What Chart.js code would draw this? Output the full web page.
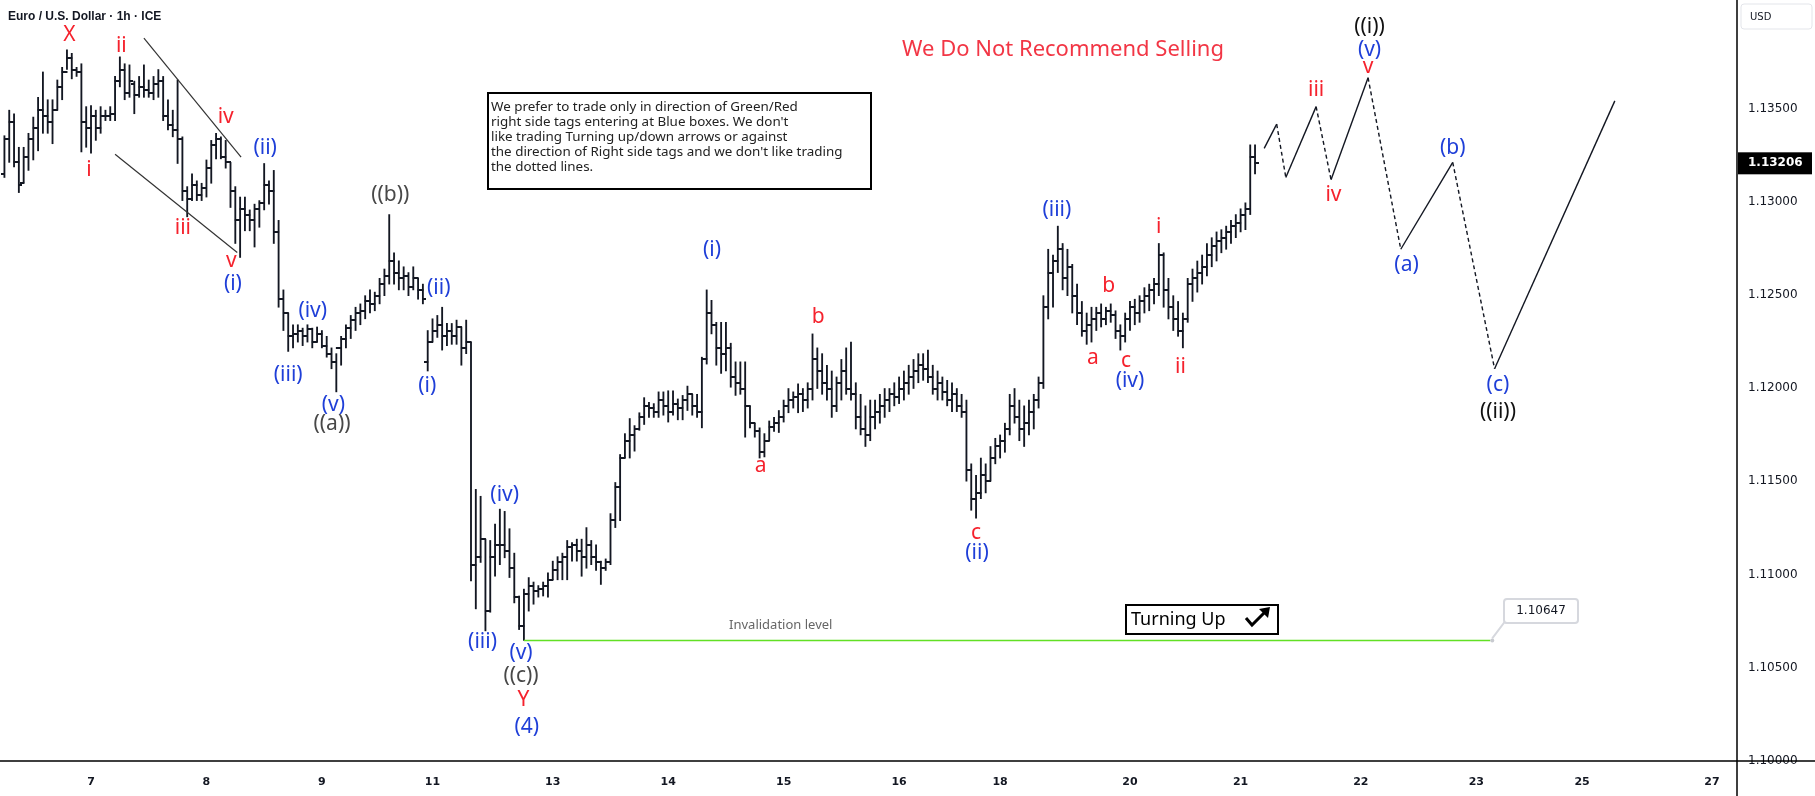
<!DOCTYPE html>
<html>
<head>
<meta charset="utf-8">
<script src="https://cdn.jsdelivr.net/npm/chart.js@4.4.1/dist/chart.umd.min.js"></script>
<style>
  html, body { margin: 0; padding: 0; background: #fff; }
  #wrap { width: 1815px; height: 796px; position: relative; }
</style>
</head>
<body>
<div id="wrap"><canvas id="priceChart"></canvas></div>
<script>
// hourly EUR/USD bars, index 0 = first bar on the left (6 May, ~06:00)
const opens = [
  1.13149, 1.13336, 1.13429, 1.13211, 1.13099, 1.13242, 1.13336, 1.13398, 1.13491, 1.13460,
  1.13429, 1.13491, 1.13616, 1.13696, 1.13771, 1.13709, 1.13696, 1.13429, 1.13398, 1.13460,
  1.13398, 1.13460, 1.13460, 1.13472, 1.13647, 1.13709, 1.13584, 1.13634, 1.13572, 1.13616,
  1.13597, 1.13584, 1.13634, 1.13647, 1.13460, 1.13410, 1.13385, 1.13336, 1.13056, 1.13012,
  1.13087, 1.13037, 1.13074, 1.13180, 1.13305, 1.13336, 1.13242, 1.13211, 1.13056, 1.12900,
  1.12962, 1.12931, 1.12900, 1.12962, 1.12994, 1.13087, 1.13056, 1.12838, 1.12477, 1.12403,
  1.12278, 1.12291, 1.12309, 1.12278, 1.12316, 1.12247, 1.12291, 1.12228, 1.12185, 1.12141,
  1.12216, 1.12266, 1.12322, 1.12365, 1.12403, 1.12415, 1.12465, 1.12452, 1.12496, 1.12558,
  1.12602, 1.12683, 1.12620, 1.12589, 1.12602, 1.12540, 1.12589, 1.12527, 1.12141, 1.12247,
  1.12309, 1.12340, 1.12278, 1.12309, 1.12278, 1.12328, 1.12216, 1.12247, 1.11053, 1.11096,
  1.11190, 1.10804, 1.11096, 1.11159, 1.11159, 1.11127, 1.11034, 1.10879, 1.10723, 1.10897,
  1.10941, 1.10910, 1.10922, 1.10941, 1.10972, 1.11022, 1.11065, 1.11096, 1.11146, 1.11159,
  1.11127, 1.11096, 1.11159, 1.11096, 1.11065, 1.11034, 1.11065, 1.11295, 1.11470, 1.11625,
  1.11718, 1.11749, 1.11781, 1.11843, 1.11905, 1.11893, 1.11874, 1.11936, 1.11905, 1.11874,
  1.11917, 1.11893, 1.11936, 1.11967, 1.11905, 1.11874, 1.12154, 1.12403, 1.12340, 1.12216,
  1.12185, 1.12216, 1.12060, 1.12029, 1.11998, 1.11905, 1.11812, 1.11768, 1.11656, 1.11718,
  1.11793, 1.11812, 1.11843, 1.11905, 1.11936, 1.11955, 1.11967, 1.11936, 1.11998, 1.12154,
  1.12092, 1.12029, 1.11998, 1.11905, 1.12029, 1.12092, 1.11998, 1.11967, 1.11843, 1.11781,
  1.11749, 1.11843, 1.11874, 1.11905, 1.11936, 1.11967, 1.11955, 1.11998, 1.12029, 1.12060,
  1.12092, 1.12123, 1.12104, 1.12060, 1.11998, 1.12029, 1.11980, 1.11936, 1.11967, 1.11905,
  1.11874, 1.11563, 1.11407, 1.11438, 1.11532, 1.11501, 1.11625, 1.11687, 1.11718, 1.11781,
  1.11905, 1.11843, 1.11781, 1.11812, 1.11874, 1.11936, 1.12029, 1.12434, 1.12620, 1.12682,
  1.12745, 1.12589, 1.12651, 1.12496, 1.12403, 1.12309, 1.12340, 1.12371, 1.12403, 1.12371,
  1.12415, 1.12390, 1.12309, 1.12278, 1.12371, 1.12434, 1.12403, 1.12465, 1.12496, 1.12527,
  1.12558, 1.12714, 1.12527, 1.12434, 1.12371, 1.12309, 1.12371, 1.12558, 1.12589, 1.12620,
  1.12651, 1.12714, 1.12763, 1.12788, 1.12807, 1.12838, 1.12869, 1.12888, 1.12931, 1.12962,
  1.13242
];
const highs = [
  1.13354, 1.13491, 1.13472, 1.13292, 1.13292, 1.13367, 1.13454, 1.13560, 1.13696, 1.13547,
  1.13547, 1.13653, 1.13721, 1.13815, 1.13796, 1.13721, 1.13740, 1.13510, 1.13516, 1.13491,
  1.13510, 1.13491, 1.13510, 1.13672, 1.13777, 1.13740, 1.13734, 1.13647, 1.13672, 1.13734,
  1.13653, 1.13672, 1.13709, 1.13672, 1.13547, 1.13491, 1.13653, 1.13348, 1.13081, 1.13149,
  1.13112, 1.13099, 1.13224, 1.13329, 1.13367, 1.13348, 1.13329, 1.13211, 1.13081, 1.13025,
  1.13025, 1.12956, 1.12987, 1.13006, 1.13205, 1.13112, 1.13168, 1.12900, 1.12527, 1.12403,
  1.12340, 1.12340, 1.12322, 1.12340, 1.12322, 1.12328, 1.12309, 1.12278, 1.12216, 1.12185,
  1.12278, 1.12340, 1.12390, 1.12434, 1.12452, 1.12496, 1.12527, 1.12515, 1.12589, 1.12639,
  1.12931, 1.12726, 1.12683, 1.12651, 1.12620, 1.12651, 1.12589, 1.12558, 1.12309, 1.12372,
  1.12390, 1.12434, 1.12347, 1.12347, 1.12365, 1.12328, 1.12365, 1.12247, 1.11457, 1.11420,
  1.11190, 1.11183, 1.11271, 1.11351, 1.11339, 1.11246, 1.11115, 1.10885, 1.10922, 1.10984,
  1.10960, 1.10941, 1.10960, 1.11009, 1.11072, 1.11096, 1.11115, 1.11183, 1.11171, 1.11190,
  1.11190, 1.11252, 1.11183, 1.11159, 1.11072, 1.11084, 1.11327, 1.11494, 1.11644, 1.11756,
  1.11837, 1.11799, 1.11868, 1.11949, 1.11924, 1.11917, 1.11980, 1.11980, 1.11986, 1.11986,
  1.11942, 1.11961, 1.12011, 1.11967, 1.11967, 1.12166, 1.12527, 1.12471, 1.12353, 1.12353,
  1.12353, 1.12241, 1.12141, 1.12141, 1.12141, 1.11905, 1.11812, 1.11787, 1.11756, 1.11824,
  1.11843, 1.11880, 1.11936, 1.11998, 1.11980, 1.12023, 1.11998, 1.12029, 1.12291, 1.12216,
  1.12185, 1.12123, 1.12092, 1.12060, 1.12154, 1.12216, 1.12247, 1.12029, 1.11967, 1.11905,
  1.11936, 1.11936, 1.11967, 1.11998, 1.11998, 1.12029, 1.12060, 1.12092, 1.12123, 1.12154,
  1.12185, 1.12185, 1.12204, 1.12123, 1.12092, 1.12060, 1.12042, 1.12029, 1.11998, 1.11967,
  1.11936, 1.11594, 1.11532, 1.11625, 1.11594, 1.11687, 1.11731, 1.11749, 1.11812, 1.11967,
  1.11998, 1.11936, 1.11905, 1.11936, 1.11967, 1.12060, 1.12496, 1.12745, 1.12714, 1.12869,
  1.12776, 1.12745, 1.12664, 1.12558, 1.12465, 1.12403, 1.12434, 1.12434, 1.12452, 1.12434,
  1.12452, 1.12415, 1.12340, 1.12403, 1.12465, 1.12477, 1.12496, 1.12539, 1.12558, 1.12589,
  1.12776, 1.12726, 1.12589, 1.12496, 1.12465, 1.12403, 1.12589, 1.12639, 1.12682, 1.12714,
  1.12776, 1.12807, 1.12838, 1.12850, 1.12869, 1.12900, 1.12931, 1.12962, 1.12994, 1.13305,
  1.13305
];
const lows = [
  1.13130, 1.13211, 1.13186, 1.13049, 1.13099, 1.13168, 1.13224, 1.13273, 1.13367, 1.13367,
  1.13311, 1.13491, 1.13547, 1.13709, 1.13659, 1.13672, 1.13267, 1.13292, 1.13261, 1.13329,
  1.13367, 1.13435, 1.13435, 1.13435, 1.13616, 1.13547, 1.13560, 1.13472, 1.13560, 1.13560,
  1.13560, 1.13547, 1.13560, 1.13435, 1.13385, 1.13348, 1.13205, 1.13006, 1.12919, 1.13006,
  1.13006, 1.13006, 1.13025, 1.13099, 1.13230, 1.13230, 1.13180, 1.12969, 1.12776, 1.12701,
  1.12844, 1.12844, 1.12757, 1.12863, 1.12956, 1.12987, 1.12776, 1.12434, 1.12309, 1.12197,
  1.12216, 1.12247, 1.12228, 1.12247, 1.12216, 1.12247, 1.12216, 1.12166, 1.12104, 1.11980,
  1.12123, 1.12216, 1.12266, 1.12309, 1.12340, 1.12372, 1.12403, 1.12415, 1.12452, 1.12496,
  1.12558, 1.12558, 1.12527, 1.12527, 1.12496, 1.12527, 1.12477, 1.12452, 1.12092, 1.12247,
  1.12272, 1.12204, 1.12228, 1.12235, 1.12235, 1.12123, 1.12185, 1.10966, 1.10816, 1.11065,
  1.10698, 1.10798, 1.10991, 1.11053, 1.11090, 1.10984, 1.10848, 1.10705, 1.10647, 1.10804,
  1.10841, 1.10879, 1.10885, 1.10879, 1.10972, 1.10972, 1.10972, 1.10972, 1.11072, 1.11072,
  1.10991, 1.11034, 1.11053, 1.11022, 1.10947, 1.11022, 1.11053, 1.11252, 1.11289, 1.11625,
  1.11625, 1.11662, 1.11774, 1.11805, 1.11843, 1.11843, 1.11843, 1.11855, 1.11818, 1.11855,
  1.11830, 1.11830, 1.11880, 1.11855, 1.11843, 1.11787, 1.12129, 1.12291, 1.12123, 1.12079,
  1.12092, 1.12005, 1.11961, 1.11967, 1.11737, 1.11787, 1.11737, 1.11625, 1.11631, 1.11718,
  1.11768, 1.11762, 1.11818, 1.11868, 1.11893, 1.11868, 1.11874, 1.11893, 1.11936, 1.11998,
  1.11967, 1.11936, 1.11843, 1.11874, 1.11936, 1.11967, 1.11936, 1.11781, 1.11749, 1.11687,
  1.11718, 1.11781, 1.11812, 1.11843, 1.11874, 1.11905, 1.11917, 1.11936, 1.11967, 1.11998,
  1.12029, 1.12042, 1.12029, 1.11967, 1.11936, 1.11936, 1.11905, 1.11874, 1.11874, 1.11843,
  1.11501, 1.11345, 1.11302, 1.11407, 1.11438, 1.11501, 1.11594, 1.11625, 1.11656, 1.11749,
  1.11812, 1.11718, 1.11687, 1.11749, 1.11781, 1.11893, 1.11998, 1.12371, 1.12434, 1.12620,
  1.12527, 1.12496, 1.12403, 1.12340, 1.12278, 1.12235, 1.12247, 1.12309, 1.12328, 1.12340,
  1.12353, 1.12266, 1.12204, 1.12247, 1.12309, 1.12340, 1.12353, 1.12403, 1.12415, 1.12452,
  1.12496, 1.12434, 1.12371, 1.12309, 1.12278, 1.12216, 1.12353, 1.12465, 1.12515, 1.12558,
  1.12602, 1.12651, 1.12682, 1.12726, 1.12745, 1.12776, 1.12807, 1.12838, 1.12850, 1.12931,
  1.13149
];
const closes = [
  1.13336, 1.13429, 1.13211, 1.13087, 1.13242, 1.13336, 1.13398, 1.13491, 1.13460, 1.13429,
  1.13491, 1.13616, 1.13696, 1.13771, 1.13709, 1.13696, 1.13429, 1.13398, 1.13460, 1.13398,
  1.13460, 1.13460, 1.13472, 1.13647, 1.13709, 1.13584, 1.13647, 1.13572, 1.13616, 1.13597,
  1.13584, 1.13634, 1.13647, 1.13460, 1.13410, 1.13385, 1.13336, 1.13056, 1.13012, 1.13087,
  1.13037, 1.13074, 1.13180, 1.13305, 1.13336, 1.13242, 1.13211, 1.13056, 1.12900, 1.12962,
  1.12931, 1.12900, 1.12962, 1.12994, 1.13087, 1.13056, 1.12838, 1.12477, 1.12403, 1.12278,
  1.12291, 1.12309, 1.12278, 1.12316, 1.12247, 1.12291, 1.12228, 1.12185, 1.12141, 1.12216,
  1.12266, 1.12322, 1.12365, 1.12403, 1.12415, 1.12465, 1.12452, 1.12496, 1.12558, 1.12602,
  1.12683, 1.12620, 1.12589, 1.12602, 1.12540, 1.12589, 1.12527, 1.12477, 1.12247, 1.12309,
  1.12340, 1.12278, 1.12309, 1.12278, 1.12328, 1.12216, 1.12247, 1.11053, 1.11096, 1.11190,
  1.10804, 1.11096, 1.11159, 1.11159, 1.11127, 1.11034, 1.10879, 1.10723, 1.10897, 1.10941,
  1.10910, 1.10922, 1.10941, 1.10972, 1.11022, 1.11065, 1.11096, 1.11146, 1.11159, 1.11127,
  1.11096, 1.11159, 1.11096, 1.11065, 1.11034, 1.11065, 1.11295, 1.11470, 1.11625, 1.11718,
  1.11749, 1.11781, 1.11843, 1.11905, 1.11893, 1.11874, 1.11936, 1.11905, 1.11874, 1.11917,
  1.11893, 1.11936, 1.11967, 1.11905, 1.11874, 1.12154, 1.12403, 1.12340, 1.12216, 1.12185,
  1.12216, 1.12060, 1.12029, 1.11998, 1.11905, 1.11812, 1.11768, 1.11656, 1.11718, 1.11793,
  1.11812, 1.11843, 1.11905, 1.11936, 1.11955, 1.11967, 1.11936, 1.11998, 1.12154, 1.12092,
  1.12029, 1.11998, 1.11905, 1.12029, 1.12092, 1.11998, 1.11967, 1.11843, 1.11781, 1.11749,
  1.11843, 1.11874, 1.11905, 1.11936, 1.11967, 1.11955, 1.11998, 1.12029, 1.12060, 1.12092,
  1.12123, 1.12104, 1.12060, 1.11998, 1.12029, 1.11980, 1.11936, 1.11967, 1.11905, 1.11874,
  1.11563, 1.11407, 1.11438, 1.11532, 1.11501, 1.11625, 1.11687, 1.11718, 1.11781, 1.11905,
  1.11843, 1.11781, 1.11812, 1.11874, 1.11936, 1.12029, 1.12434, 1.12620, 1.12682, 1.12745,
  1.12589, 1.12651, 1.12496, 1.12403, 1.12309, 1.12340, 1.12371, 1.12403, 1.12371, 1.12415,
  1.12390, 1.12309, 1.12278, 1.12371, 1.12434, 1.12403, 1.12465, 1.12496, 1.12527, 1.12558,
  1.12714, 1.12527, 1.12434, 1.12371, 1.12309, 1.12371, 1.12558, 1.12589, 1.12620, 1.12651,
  1.12714, 1.12763, 1.12788, 1.12807, 1.12838, 1.12869, 1.12888, 1.12931, 1.12962, 1.13242,
  1.13206
];

// time axis (bar index of each day label) and price axis
const dayTicks  = [18, 42, 66, 89, 114, 138, 162, 186, 207, 234, 257, 282, 306, 328, 355];
const dayLabels = ['7', '8', '9', '11', '13', '14', '15', '16', '18', '20', '21', '22', '23', '25', '27'];
const priceTicks = [1.100, 1.105, 1.110, 1.115, 1.120, 1.125, 1.130, 1.135];
const lastPrice = 1.13206;

// drawn lines
const invalidLevel = 1.10647;
const invalidX = [108, 308.9];
const projX = [261.9, 264.5, 266.4, 272.7, 275.8, 283.5, 290.3, 301.1, 309.8, 334.8];
const projY = [1.13286, 1.13416, 1.13130, 1.13510, 1.13118, 1.13665, 1.12745, 1.13211, 1.12104, 1.13541];
const wedgeTopX = [29.0, 49.2],  wedgeTopY = [1.13878, 1.13239];
const wedgeLowX = [23.0, 48.4],  wedgeLowY = [1.13255, 1.12728];

// wave labels: text, bar index, price, colour group
const waveLabels = [
  ['X', 13.5, 1.13895, 'r'], ['i', 17.6, 1.13168, 'r'], ['ii', 24.3, 1.13833, 'r'],
  ['iii', 37.1, 1.12857, 'r'], ['iv', 46.0, 1.13454, 'r'], ['v', 47.2, 1.12682, 'r'],
  ['(i)', 47.5, 1.12558, 'b'], ['(ii)', 54.2, 1.13286, 'b'], ['(iii)', 59.0, 1.12073, 'b'],
  ['(iv)', 64.1, 1.12415, 'b'], ['(v)', 68.4, 1.11911, 'b'], ['((a))', 68.1, 1.11806, 'g'],
  ['((b))', 80.2, 1.13037, 'g'], ['(i)', 87.9, 1.12011, 'b'], ['(ii)', 90.3, 1.12539, 'b'],
  ['(iii)', 99.4, 1.10636, 'b'], ['(iv)', 104.0, 1.11426, 'b'], ['(v)', 107.4, 1.10580, 'b'],
  ['((c))', 107.4, 1.10456, 'g'], ['Y', 107.9, 1.10325, 'r'], ['(4)', 108.6, 1.10182, 'b'],
  ['(i)', 147.1, 1.12739, 'b'], ['a', 157.2, 1.11582, 'r'], ['b', 169.2, 1.12384, 'r'],
  ['c', 202.0, 1.11221, 'r'], ['(ii)', 202.2, 1.11115, 'b'], ['(iii)', 218.8, 1.12956, 'b'],
  ['a', 226.3, 1.12160, 'r'], ['b', 229.6, 1.12546, 'r'], ['c', 233.2, 1.12148, 'r'],
  ['(iv)', 234.0, 1.12036, 'b'], ['i', 240.0, 1.12863, 'r'], ['ii', 244.5, 1.12116, 'r'],
  ['iii', 272.7, 1.13597, 'r'], ['iv', 276.3, 1.13037, 'r'], ['v', 283.5, 1.13721, 'r'],
  ['(v)', 283.8, 1.13815, 'b'], ['((i))', 283.8, 1.13939, 'k'], ['(a)', 291.5, 1.12658, 'b'],
  ['(b)', 301.1, 1.13286, 'b'], ['(c)', 310.5, 1.12017, 'b'], ['((ii))', 310.5, 1.11874, 'k']
];
const labelColors = { r: '#f5222d', b: '#1f3fd8', g: '#484848', k: '#111111' };

const noteLines = [
  'We prefer to trade only in direction of Green/Red',
  "right side tags entering at Blue boxes. We don't",
  'like trading Turning up/down arrows or against',
  "the direction of Right side tags and we don't like trading",
  'the dotted lines.'
];

const INK = '#131722';

function tickImage(side) {
  const c = document.createElement('canvas');
  c.width = 7; c.height = 2;
  const g = c.getContext('2d');
  g.fillStyle = INK;
  if (side === 'left') g.fillRect(0, 0, 4, 2);
  else g.fillRect(3, 0, 4, 2);
  return c;
}

const openTick = tickImage('left');
const closeTick = tickImage('right');

const annotations = {
  id: 'annotations',
  afterDatasetsDraw(chart) {
    const { ctx, scales: { x, y } } = chart;
    ctx.save();
    ctx.textAlign = 'center';
    ctx.textBaseline = 'middle';
    ctx.font = '21px "Noto Sans"';
    waveLabels.forEach(([t, i, p, c]) => {
      ctx.fillStyle = labelColors[c];
      ctx.fillText(t, x.getPixelForValue(i), y.getPixelForValue(p));
    });

    // headline
    ctx.fillStyle = '#f23645';
    ctx.font = '22px "Noto Sans"';
    ctx.fillText('We Do Not Recommend Selling', 1063, 50);

    // invalidation text
    const iy = y.getPixelForValue(invalidLevel);
    ctx.fillStyle = '#666';
    ctx.font = '13px "Noto Sans"';
    ctx.fillText('Invalidation level', x.getPixelForValue(161.4), iy - 15);

    // note box
    ctx.fillStyle = '#fff';
    ctx.fillRect(488, 93, 383, 96);
    ctx.strokeStyle = '#000';
    ctx.lineWidth = 2;
    ctx.strokeRect(488, 93, 383, 96);
    ctx.fillStyle = '#222';
    ctx.font = '13.4px "Noto Sans"';
    ctx.textAlign = 'left';
    noteLines.forEach((l, k) => ctx.fillText(l, 491, 107 + k * 15));

    // turning up box
    ctx.fillStyle = '#fff';
    ctx.fillRect(1126, 605, 152, 29);
    ctx.strokeRect(1126, 605, 152, 29);
    ctx.fillStyle = '#000';
    ctx.font = '18px "Noto Sans"';
    ctx.fillText('Turning Up', 1131, 620);
    ctx.beginPath();
    ctx.lineWidth = 3;
    ctx.moveTo(1246, 618);
    ctx.lineTo(1252, 625);
    ctx.lineTo(1266, 611);
    ctx.stroke();
    ctx.beginPath();
    ctx.moveTo(1270, 607);
    ctx.lineTo(1259, 609);
    ctx.lineTo(1268, 618);
    ctx.closePath();
    ctx.fill();

    // level callout
    const lx = x.getPixelForValue(invalidX[1]);
    ctx.lineWidth = 2;
    ctx.strokeStyle = '#d6d8de';
    ctx.fillStyle = '#fff';
    ctx.beginPath();
    ctx.moveTo(lx + 2, iy - 2);
    ctx.lineTo(lx + 14, iy - 18);
    ctx.lineTo(lx + 24, iy - 18);
    ctx.stroke();
    ctx.beginPath();
    ctx.roundRect(1504, 599, 74, 24, 3);
    ctx.fill();
    ctx.stroke();
    ctx.fillStyle = '#c8cad0';
    ctx.beginPath();
    ctx.arc(lx + 2, iy, 2, 0, Math.PI * 2);
    ctx.fill();
    ctx.fillStyle = INK;
    ctx.font = '12px "DejaVu Sans"';
    ctx.textAlign = 'center';
    ctx.fillText(invalidLevel.toFixed(5), 1541, 611);
    ctx.restore();
  }
};

const frame = {
  id: 'frame',
  afterDraw(chart) {
    const { ctx, chartArea: a, scales: { y } } = chart;
    ctx.save();
    ctx.strokeStyle = '#000';
    ctx.lineWidth = 1.5;
    ctx.beginPath();
    ctx.moveTo(0, a.bottom); ctx.lineTo(chart.width, a.bottom);
    ctx.moveTo(a.right, 0); ctx.lineTo(a.right, chart.height);
    ctx.stroke();

    // last price tag
    const py = y.getPixelForValue(lastPrice);
    ctx.fillStyle = '#000';
    ctx.fillRect(a.right + 1, py - 11, 74, 22);
    ctx.fillStyle = '#fff';
    ctx.font = 'bold 12px "DejaVu Sans"';
    ctx.textAlign = 'left';
    ctx.textBaseline = 'middle';
    ctx.fillText(lastPrice.toFixed(5), a.right + 11, py);

    // currency box
    ctx.strokeStyle = '#e3e5ea';
    ctx.lineWidth = 1;
    ctx.beginPath();
    ctx.roundRect(a.right + 4, 4, 71, 25, 3);
    ctx.stroke();
    ctx.fillStyle = INK;
    ctx.font = '10px "DejaVu Sans"';
    ctx.fillText('USD', a.right + 13, 17);

    // title
    ctx.font = 'bold 12px "Liberation Sans"';
    ctx.fillText('Euro / U.S. Dollar \u00b7 1h \u00b7 ICE', 8, 17);
    ctx.restore();
  }
};

new Chart(document.getElementById('priceChart'), {
  type: 'bar',
  data: {
    datasets: [
      {
        type: 'line',
        data: projX.map((v, i) => ({ x: v, y: projY[i] })),
        borderColor: INK,
        borderWidth: 1.4,
        pointRadius: 0,
        segment: { borderDash: c => (c.p0DataIndex % 2 === 1 ? [4, 3] : undefined) }
      },
      {
        type: 'line',
        data: invalidX.map(v => ({ x: v, y: invalidLevel })),
        borderColor: '#62e024',
        borderWidth: 1.5,
        pointRadius: 0
      },
      {
        type: 'line',
        data: wedgeTopX.map((v, i) => ({ x: v, y: wedgeTopY[i] })),
        borderColor: '#333',
        borderWidth: 1.2,
        pointRadius: 0
      },
      {
        type: 'line',
        data: wedgeLowX.map((v, i) => ({ x: v, y: wedgeLowY[i] })),
        borderColor: '#333',
        borderWidth: 1.2,
        pointRadius: 0
      },
      {
        type: 'scatter',
        data: opens.map((v, i) => ({ x: i, y: v })),
        pointStyle: openTick,
        pointRadius: 3,
        pointHoverRadius: 3
      },
      {
        type: 'scatter',
        data: closes.map((v, i) => ({ x: i, y: v })),
        pointStyle: closeTick,
        pointRadius: 3,
        pointHoverRadius: 3
      },
      {
        type: 'bar',
        data: highs.map((h, i) => ({ x: i, y: [lows[i], h] })),
        backgroundColor: INK,
        barThickness: 1.2,
        grouped: false
      }
    ]
  },
  options: {
    responsive: true,
    maintainAspectRatio: false,
    animation: false,
    events: [],
    layout: { padding: 0, autoPadding: false },
    plugins: { legend: { display: false }, tooltip: { enabled: false } },
    scales: {
      x: {
        type: 'linear',
        min: -0.92,
        max: 360.2,
        offset: false,
        grid: { display: false, drawTicks: false },
        border: { display: false },
        afterBuildTicks: s => { s.ticks = dayTicks.map(v => ({ value: v })); },
        afterFit: s => { s.height = 35; s.paddingLeft = 0; s.paddingRight = 0; },
        ticks: {
          autoSkip: false,
          maxRotation: 0,
          padding: 15,
          color: INK,
          font: { family: 'DejaVu Sans', size: 11, weight: 'bold' },
          callback: (v, i) => dayLabels[i]
        }
      },
      y: {
        type: 'linear',
        position: 'right',
        min: 1.1,
        max: 1.14082,
        beginAtZero: false,
        grid: { display: false, drawTicks: false },
        border: { display: false },
        afterBuildTicks: s => { s.ticks = priceTicks.map(v => ({ value: v })); },
        afterFit: s => { s.width = 78; s.paddingTop = 0; s.paddingBottom = 0; },
        ticks: {
          padding: 11,
          color: INK,
          font: { family: 'DejaVu Sans', size: 12 },
          callback: v => Number(v).toFixed(5)
        }
      }
    }
  },
  plugins: [annotations, frame]
});
</script>
</body>
</html>
